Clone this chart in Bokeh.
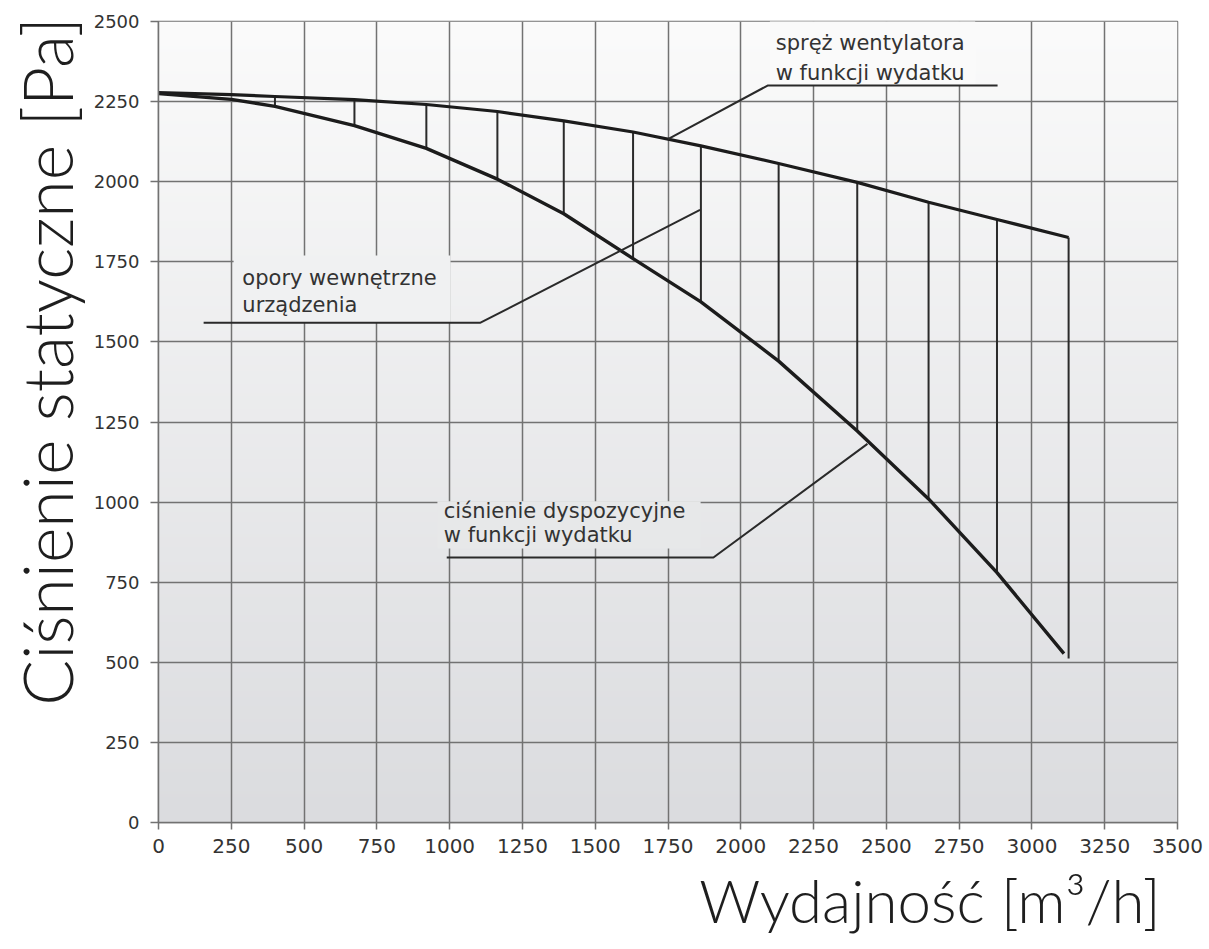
import numpy as np
from bokeh.plotting import figure
from bokeh.models import Range1d, SingleIntervalTicker, Label, Title
from bokeh.embed import file_html
from bokeh.resources import INLINE

# ---------------- data ----------------
# fan static pressure vs. flow ("spręż wentylatora w funkcji wydatku")
fan_flow = [0, 250, 400, 673, 920, 1164, 1392, 1630, 1863, 2130, 2400, 2645, 2880, 3126]
fan_pressure = [2278, 2272, 2266, 2256, 2241, 2219, 2190, 2155, 2112, 2057, 1998, 1936, 1882, 1826]

# available pressure vs. flow ("ciśnienie dyspozycyjne w funkcji wydatku")
disp_flow = [0, 250, 400, 673, 920, 1164, 1392, 1630, 1863, 2130, 2400, 2645, 2880, 3110]
disp_pressure = [2275, 2257, 2235, 2175, 2104, 2008, 1900, 1760, 1625, 1440, 1222, 1010, 780, 527]

# internal resistance hatching ("opory wewnętrzne urządzenia")
hatch_flow = [400, 673, 920, 1164, 1392, 1630, 1863, 2130, 2400, 2645, 2880, 3126]
hatch_top = [2266, 2256, 2241, 2219, 2190, 2155, 2112, 2057, 1998, 1936, 1882, 1826]
hatch_bottom = [2235, 2175, 2104, 2008, 1900, 1760, 1625, 1440, 1222, 1010, 780, 512]

x_ticks_step = 250
y_ticks_step = 250
x_max = 3500
y_max = 2500

x_title = "Wydajność [m³/h]"
y_title = "Ciśnienie statyczne  [Pa]"
ann_fan = ["spręż wentylatora", "w funkcji wydatku"]
ann_int = ["opory wewnętrzne", "urządzenia"]
ann_disp = ["ciśnienie dyspozycyjne", "w funkcji wydatku"]

# ---------------- styling ----------------
GRID = "#727272"
CURVE = "#1c1c1c"
HATCH = "#2a2a2a"
TXT = "#333333"
TITLE_FONT = "'Lato Light', Lato"
TOP_RGB = np.array([251, 251, 251])
BOT_RGB = np.array([219, 220, 223])


def bg_at(v):
    f = v / y_max
    c = BOT_RGB + (TOP_RGB - BOT_RGB) * f
    return "#%02x%02x%02x" % tuple(int(round(t)) for t in c)


p = figure(
    frame_width=1019, frame_height=801,
    min_border_left=20, min_border_right=30, min_border_top=21, min_border_bottom=10,
    x_range=Range1d(0, x_max), y_range=Range1d(0, y_max),
    output_backend="svg", toolbar_location=None,
    background_fill_color="white", border_fill_color="white",
)
p.outline_line_color = GRID
p.outline_line_width = 1.5

# gradient background
N = 256
img = np.empty((N, 1), dtype=np.uint32)
view = img.view(dtype=np.uint8).reshape((N, 1, 4))
for i in range(N):
    c = BOT_RGB + (TOP_RGB - BOT_RGB) * (i / (N - 1))
    view[i, 0, :3] = c.astype(np.uint8)
    view[i, 0, 3] = 255
p.image_rgba(image=[img], x=0, y=0, dw=x_max, dh=y_max, level="image")

# axes & grid
for ax, step in ((p.xaxis, x_ticks_step), (p.yaxis, y_ticks_step)):
    ax.ticker = SingleIntervalTicker(interval=step)
    ax.axis_line_color = GRID
    ax.axis_line_width = 1.5
    ax.major_tick_line_color = GRID
    ax.major_tick_line_width = 1.5
    ax.major_tick_in = 0
    ax.minor_tick_line_color = None
    ax.major_label_text_font = "DejaVu Sans"
    ax.major_label_text_color = TXT
p.xaxis.major_tick_out = 7
p.yaxis.major_tick_out = 8
p.xaxis.major_label_text_font_size = "20px"
p.yaxis.major_label_text_font_size = "18px"
p.xaxis.major_label_standoff = 9
p.yaxis.major_label_standoff = 11

p.xgrid.ticker = SingleIntervalTicker(interval=x_ticks_step)
p.ygrid.ticker = SingleIntervalTicker(interval=y_ticks_step)
for g in (p.xgrid, p.ygrid):
    g.grid_line_color = GRID
    g.grid_line_width = 1.5
    g.grid_line_alpha = 1.0

# axis titles as side titles
xt = Title(text=x_title, align="right", text_font=TITLE_FONT, text_font_size="60px",
           text_font_style="normal", text_color="#1e1e1e", offset=17, standoff=12)
p.add_layout(xt, "below")
yt = Title(text=y_title, align="right", text_font=TITLE_FONT, text_font_size="68px",
           text_font_style="normal", text_color="#1e1e1e", offset=-23, standoff=7)
p.add_layout(yt, "left")

# text backgrounds (hide grid behind the annotation texts)
boxes = [
    (2100, 2805, 2300, 2530),
    (258, 1003, 1560, 1770),
    (958, 1862, 855, 1003),
]
for l, r, b, t in boxes:
    p.quad(left=[l], right=[r], bottom=[b], top=[t], fill_color=bg_at((b + t) / 2), line_color=None)

# hatching
p.segment(x0=hatch_flow, y0=hatch_bottom, x1=hatch_flow, y1=hatch_top, line_color=HATCH, line_width=2)

# curves
p.line(fan_flow, fan_pressure, line_color=CURVE, line_width=3.2, line_join="round")
p.line(disp_flow, disp_pressure, line_color=CURVE, line_width=3.4, line_join="round")

# leader lines
fan_anchor_x = 1750
fan_anchor_y = float(np.interp(fan_anchor_x, fan_flow, fan_pressure))
p.line([fan_anchor_x, 2092, 2882], [fan_anchor_y, 2300, 2300], line_color=HATCH, line_width=2)

int_anchor_x = 1860
p.line([155, 1106, int_anchor_x], [1560, 1560, 1912], line_color=HATCH, line_width=2)

disp_anchor_x = 2435
disp_anchor_y = float(np.interp(disp_anchor_x, disp_flow, disp_pressure)) - 10
p.line([990, 1906, disp_anchor_x], [827, 827, disp_anchor_y], line_color=HATCH, line_width=2)

# annotation texts
def add_text(x, y, t, size="21px"):
    p.add_layout(Label(x=x, y=y, text=t, text_font="DejaVu Sans", text_font_size=size,
                       text_color=TXT, text_align="left", text_baseline="middle"))

add_text(2120, 2432, ann_fan[0])
add_text(2120, 2340, ann_fan[1])
add_text(288, 1698, ann_int[0])
add_text(288, 1614, ann_int[1])
add_text(980, 971, ann_disp[0])
add_text(980, 896, ann_disp[1])

open("out.html", "w").write(file_html(p, INLINE))
